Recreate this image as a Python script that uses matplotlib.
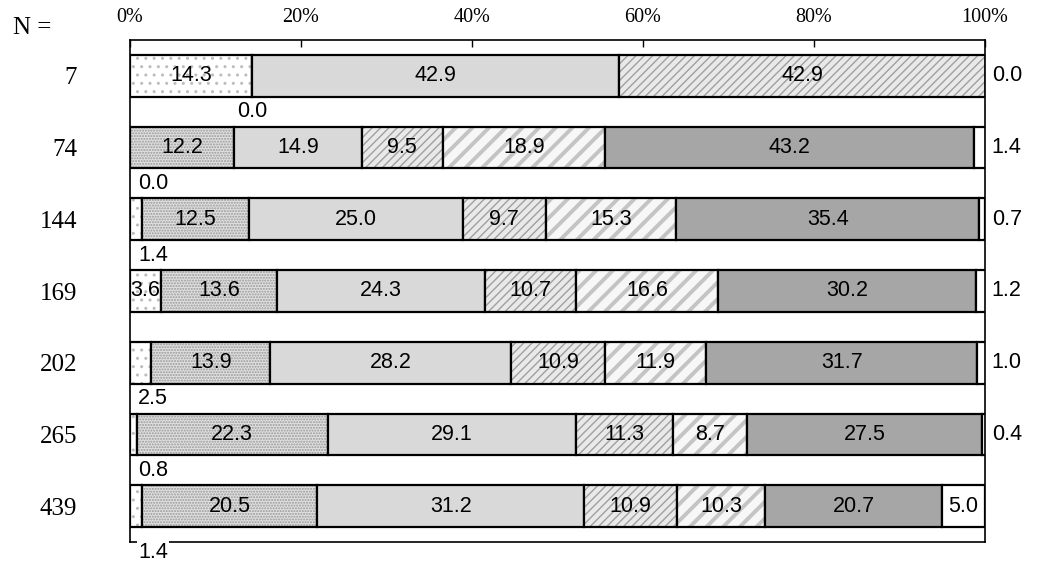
import numpy as np
import matplotlib
matplotlib.use("Agg")
import matplotlib.pyplot as plt

n_labels = ["7", "74", "144", "169", "202", "265", "439"]

# share of each answer category per row (%), NaN = no value shown
s1 = [14.3, 0.0, 1.4, 3.6, 2.5, 0.8, 1.4]
s2 = [0.0, 12.2, 12.5, 13.6, 13.9, 22.3, 20.5]
s3 = [42.9, 14.9, 25.0, 24.3, 28.2, 29.1, 31.2]
s4 = [42.9, 9.5, 9.7, 10.7, 10.9, 11.3, 10.9]
s5 = [np.nan, 18.9, 15.3, 16.6, 11.9, 8.7, 10.3]
s6 = [np.nan, 43.2, 35.4, 30.2, 31.7, 27.5, 20.7]
s7 = [0.0, 1.4, 0.7, 1.2, 1.0, 0.4, 5.0]

series = [s1, s2, s3, s4, s5, s6, s7]
# (facecolor, hatch, hatch colour, hatch linewidth)
estilos = [
    ("white", "..", "#bdbdbd", 1.0),
    ("#e0e0e0", "......", "#999999", 1.0),
    ("#d9d9d9", None, "#d9d9d9", 1.0),
    ("#e9e9e9", "////", "#9f9f9f", 1.0),
    ("#f7f7f7", "//", "#c4c4c4", 2.8),
    ("#a6a6a6", None, "#a6a6a6", 1.0),
    ("white", None, "white", 1.0),
]

LABEL_FONT = "Liberation Sans"
SERIF = "Liberation Serif"

fig = plt.figure(figsize=(10.41, 5.62), dpi=100)
ax = fig.add_axes([130 / 1041, 1 - 542 / 562, 855 / 1041, 502 / 562])

y = np.arange(len(n_labels))
h = 0.58
left = np.zeros(len(n_labels))
for j, (vals, (fc, hatch, hc, hlw)) in enumerate(zip(series, estilos)):
    w = np.nan_to_num(np.array(vals, dtype=float))
    with plt.rc_context({"hatch.linewidth": hlw}):
        ax.barh(y, w, left=left, height=h, color=fc, hatch=hatch,
                edgecolor=hc, linewidth=0)
    ax.barh(y, w, left=left, height=h, fill=False,
            edgecolor="black", linewidth=1.6)
    for i, v in enumerate(vals):
        if np.isnan(v):
            continue
        txt = f"{v:.1f}"
        centro = left[i] + w[i] / 2
        if v >= 3:
            ax.text(centro, i, txt, ha="center", va="center",
                    fontsize=15.5, family=LABEL_FONT)
        elif j == 6:
            ax.text(100.8, i, txt, ha="left", va="center",
                    fontsize=15.5, family=LABEL_FONT, clip_on=False)
        else:
            dy = 0.64 if i == len(n_labels) - 1 else 0.5
            ax.text(max(centro, 2.7), i + dy, txt, ha="center",
                    va="center", fontsize=15.5, family=LABEL_FONT,
                    clip_on=False, zorder=5,
                    bbox=dict(facecolor="white", edgecolor="none", pad=1))
    left += w

ax.set_xlim(0, 100)
ax.set_ylim(len(n_labels) - 0.5, -0.5)

ax.xaxis.tick_top()
ax.set_xticks(np.arange(0, 101, 20))
ax.set_xticklabels([f"{t}%" for t in range(0, 101, 20)],
                   fontsize=14.5, family=SERIF)
ax.tick_params(axis="x", direction="in", length=5, width=1, pad=9)

ax.set_yticks(y)
ax.set_yticklabels(n_labels, fontsize=18, family=SERIF)
ax.tick_params(axis="y", length=0, pad=38)

for sp in ax.spines.values():
    sp.set_linewidth(1.2)

fig.text(13 / 1041, 1 - 28 / 562, "N =", ha="left", va="center",
         fontsize=18, family=SERIF)

fig.savefig("out.png", dpi=100)
